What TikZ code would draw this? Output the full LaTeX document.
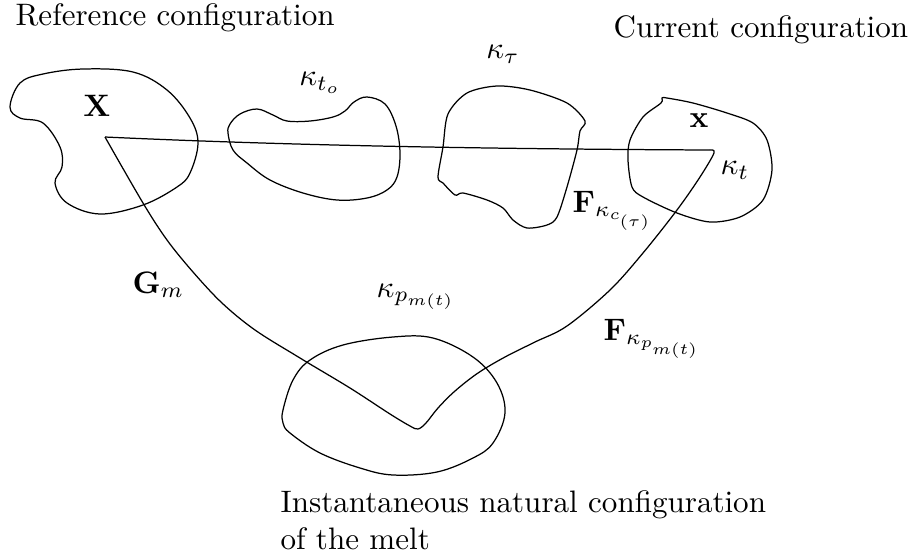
\documentclass[tikz,border=0pt]{standalone}
\usepackage{amsmath}
\begin{document}
\begin{tikzpicture}[x=0.322pt,y=-0.322pt,
  lbl/.style={inner sep=0pt, anchor=base west},
  blob/.style={draw, line width=0.4pt},
  path/.style={draw, line width=0.4pt, line join=round}]
\useasboundingbox (0,0) rectangle (916,557);

% blobs
\draw[blob] plot[smooth cycle, tension=0.6] coordinates {
 (10,107) (20,83) (43,74) (83,69) (133,72) (167,90) (190,118) (198,143)
 (190,173) (177,187) (143,205) (100,214) (67,203) (55,183) (62,167)
 (60,147) (43,123) (20,118)};
\draw[blob] plot[smooth cycle, tension=0.6] coordinates {
 (228,133) (233,150) (247,163) (270,180) (303,193) (337,200) (367,198)
 (387,190) (397,177) (400,153) (396,126) (385,104) (367,97) (354,102)
 (345,111) (333,117) (310,121) (287,121) (273,115) (257,109) (240,114) (230,124)};
\draw[blob] plot[smooth cycle, tension=0.5] coordinates {
 (448,114) (467,93) (497,86) (530,90) (567,103) (585,121) (580,131)
 (577,150) (567,187) (557,217) (547,225) (527,228) (513,220) (503,208)
 (487,200) (463,193) (455,195) (443,183) (438,177) (443,147)};
\draw[blob] plot[smooth cycle, tension=0.5] coordinates {
 (662,98) (661,103) (643,117) (630,140) (628,160) (632,187) (643,197)
 (677,213) (710,222) (740,217) (763,200) (772,170) (767,140) (753,123)
 (727,113) (693,103) (667,98)};
\draw[blob] plot[smooth cycle, tension=0.6] coordinates {
 (283,410) (293,380) (310,360) (343,345) (393,337) (433,338) (473,357)
 (497,383) (505,413) (493,443) (473,458) (437,472) (393,475) (360,468)
 (320,453) (290,433) (283,423)};

% connecting lines
\coordinate (X0) at (105,137);
\coordinate (T0) at (710,150);
\draw[path] (X0) .. controls (300,146) and (500,149) .. (T0);
\draw[path] plot[smooth, tension=0.55] coordinates {
 (710,150) (714,153) (700,177) (677,210) (643,253) (610,290) (567,326)
 (535,342) (505,357) (478,373) (455,391) (438,408) (426,423) (418,429) (410,426)
 (390,414) (350,388) (300,358) (255,330) (222,303) (193,272) (167,240)
 (143,203) (105,137)};

% labels
\node[lbl] (ref) at (15,25) {Reference configuration};
\node[lbl] (cur) at (613,37) {Current configuration};
\node[lbl] (inst) at (280,512) {Instantaneous natural configuration};
\node[lbl] (melt) at (280,549) {of the melt};
\node (Xl) at (97,106) {$\mathbf{X}$};
\node (xl) at (699,121) {$\mathbf{x}$};
\node (kto) at (320,83) {$\kappa_{t_o}$};
\node (ktau) at (503,54) {$\kappa_{\tau}$};
\node (kt) at (735,170) {$\kappa_t$};
\node[lbl] (Fc) at (572,212) {$\mathbf{F}_{\kappa_{c_{(\tau)}}}$};
\node[lbl] (Fp) at (603,340) {$\mathbf{F}_{\kappa_{p_{m(t)}}}$};
\node[lbl] (Gm) at (132,293) {$\mathbf{G}_m$};
\node[lbl] (kp) at (376,297) {$\kappa_{p_{m(t)}}$};
\end{tikzpicture}
\end{document}
